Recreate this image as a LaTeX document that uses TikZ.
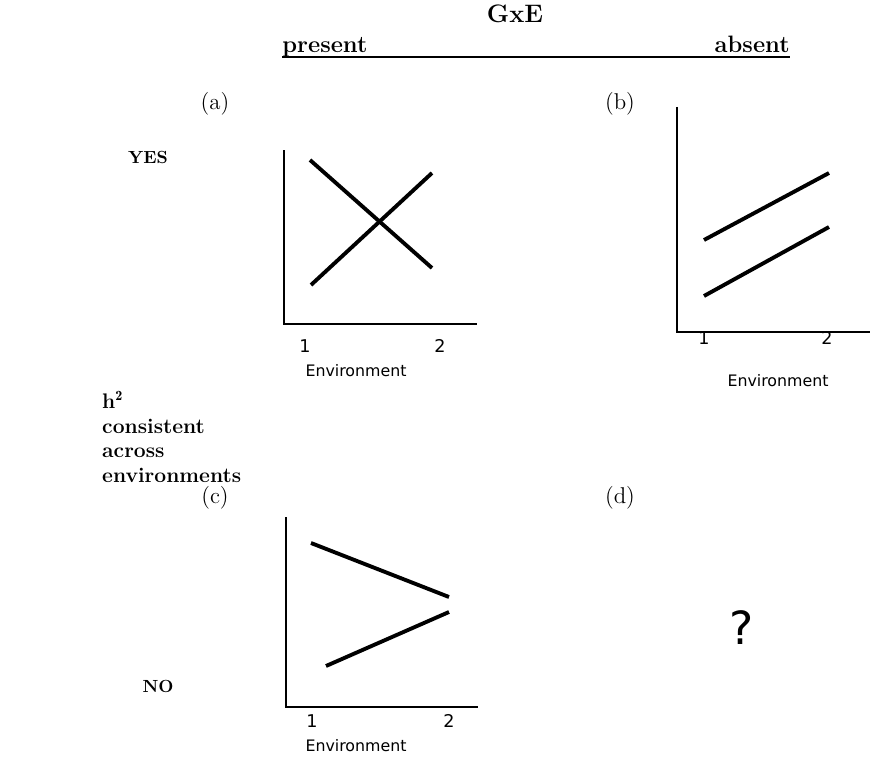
\documentclass[tikz,border=0pt]{standalone}
\usepackage{fontspec}
\setsansfont{DejaVu Sans}
\usepackage{tikz}
\usetikzlibrary{positioning, calc}

\begin{document}
\begin{tikzpicture}[x=0.02cm, y=-0.02cm,
    axis/.style={line width=1.6pt},
    trend/.style={line width=2.2pt},
    panel/.style={font=\fontsize{13}{15}\selectfont},
    tick/.style={font=\sffamily\fontsize{10}{12}\selectfont},
    xlab/.style={font=\sffamily\small},
    rowlab/.style={font=\bfseries}
  ]
    \useasboundingbox (0,0) rectangle (875,757);

    % header
    \node[font=\Large\bfseries] (gxe) at (515,14) {GxE};
    \node[font=\fontsize{13.5}{16}\selectfont\bfseries, anchor=base west, inner sep=0pt] (present) at (282,53) {present};
    \node[font=\fontsize{13.5}{16}\selectfont\bfseries, anchor=base east, inner sep=0pt] (absent) at (790,53) {absent};
    \draw[line width=1pt] ($(present.base west)+(0,4)$) -- ($(absent.base east)+(0,4)$);

    % row labels
    \node[rowlab] (yes) at (148,157) {YES};
    \node[rowlab] (no) at (158,686) {NO};
    \node[rowlab, font=\large\bfseries, anchor=west, align=left] (hsq) at (96,437)
        {h$^{\mathbf 2}$\\consistent\\across\\environments};

    % (a)
    \node[panel] (pa) at (215,104) {(a)};
    \draw[axis] (284,150) -- (284,324) -- (477,324);
    \node[tick] (a1) at (305,346) {1};
    \node[tick] (a2) at (440,346) {2};
    \node[xlab] (ax) at (356,371) {Environment};
    \draw[trend] (310,160) -- (432,268);
    \draw[trend] (311,285) -- (432,173);

    % (b)
    \node[panel] (pb) at (620,104) {(b)};
    \draw[axis] (677,107) -- (677,332) -- (870,332);
    \node[tick] (b1) at (704,338) {1};
    \node[tick] (b2) at (827,338) {2};
    \node[xlab] (bx) at (778,381) {Environment};
    \draw[trend] (704,240) -- (829,173);
    \draw[trend] (704,296) -- (829,227);

    % (c)
    \node[panel] (pc) at (215,498) {(c)};
    \draw[axis] (286,517) -- (286,707) -- (478,707);
    \node[tick] (c1) at (312,721) {1};
    \node[tick] (c2) at (449,721) {2};
    \node[xlab] (cx) at (356,746) {Environment};
    \draw[trend] (311,543) -- (449,597);
    \draw[trend] (326,666) -- (449,612);

    % (d)
    \node[panel] (pd) at (620,498) {(d)};
    \node[font=\sffamily\fontsize{26}{30}\selectfont] (qm) at (742,628) {?};
\end{tikzpicture}
\end{document}
